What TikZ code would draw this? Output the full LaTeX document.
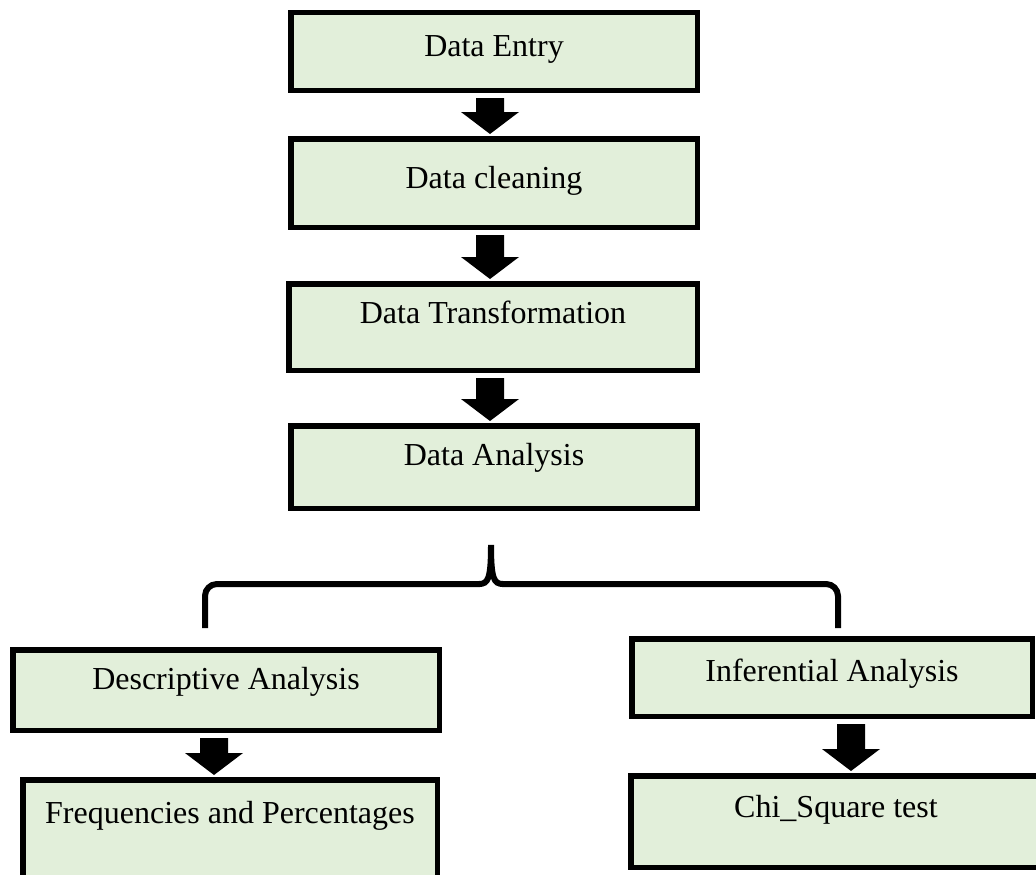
\documentclass[tikz,border=0pt]{standalone}
\usepackage{fontspec}
\setmainfont{Liberation Serif}
\usetikzlibrary{calc}
\definecolor{boxgreen}{RGB}{226,239,218}
\tikzset{
  stage/.style={draw=black, line width=5.5pt, fill=boxgreen, inner sep=0pt,
    font=\fontsize{32}{37}\selectfont, text height=22pt},
  bracket/.style={draw=black, line width=6pt, rounded corners=12pt},
}
% block arrow pointing down from the bottom of node #1 to the top of node #2, centred on coordinate #3
\newcommand{\flowarrow}[3]{%
  \path (#1.south -| #3) coordinate (fa-s) (#2.north -| #3) coordinate (fa-t);
  \fill[black] ($(fa-s)+(-14,5)$) -- ($(fa-t)+(-14,-24)$) -- ($(fa-t)+(-29,-24)$)
    -- ($(fa-t)+(0,-2)$) -- ($(fa-t)+(29,-24)$) -- ($(fa-t)+(14,-24)$)
    -- ($(fa-s)+(14,5)$) -- cycle;
}
\begin{document}
\begin{tikzpicture}[x=1pt,y=-1pt]
\useasboundingbox (0,0) rectangle (1036,875);
\clip (0,0) rectangle (1036,875);

% main pipeline
\node[stage, minimum width=406.5pt, minimum height=77.5pt, text depth=11pt] (entry) at (494,51.5) {Data Entry};
\node[stage, minimum width=406.5pt, minimum height=88.5pt, text depth=12pt] (clean) at (494,183) {Data cleaning};
\node[stage, minimum width=408.5pt, minimum height=86.5pt, text depth=30pt] (trans) at (493,327) {Data Transformation};
\node[stage, minimum width=406.5pt, minimum height=82.5pt, text depth=26pt] (analysis) at (494,467) {Data Analysis};

% two branches
\node[stage, minimum width=426.5pt, minimum height=80.5pt, text depth=24pt] (desc) at (226,690) {Descriptive Analysis};
\node[stage, minimum width=414.5pt, minimum height=97.5pt, text depth=33pt] (freq) at (230,828.5) {Frequencies and Percentages};
\node[stage, minimum width=400.5pt, minimum height=77.5pt, text depth=15pt] (infer) at (832,677.5) {Inferential Analysis};
\node[stage, minimum width=410.5pt, minimum height=91.5pt, text depth=31pt] (chi) at (836,821.5) {Chi\_Square test};

% arrow axes
\coordinate (mainx) at (490,0);
\coordinate (leftx) at (214,0);
\coordinate (rightx) at (851,0);

\flowarrow{entry}{clean}{mainx}
\flowarrow{clean}{trans}{mainx}
\flowarrow{trans}{analysis}{mainx}
\flowarrow{desc}{freq}{leftx}
\flowarrow{infer}{chi}{rightx}

% brace splitting the analysis into two branches
\draw[bracket] (205,628) -- (205,584) -- (480,584);
\draw[draw=black, line width=6pt] (479,584) .. controls (488,584) and (491,579) .. (491,545)
  .. controls (491,579) and (494,584) .. (503,584);
\draw[bracket] (502,584) -- (838,584) -- (838,628);
\end{tikzpicture}
\end{document}
